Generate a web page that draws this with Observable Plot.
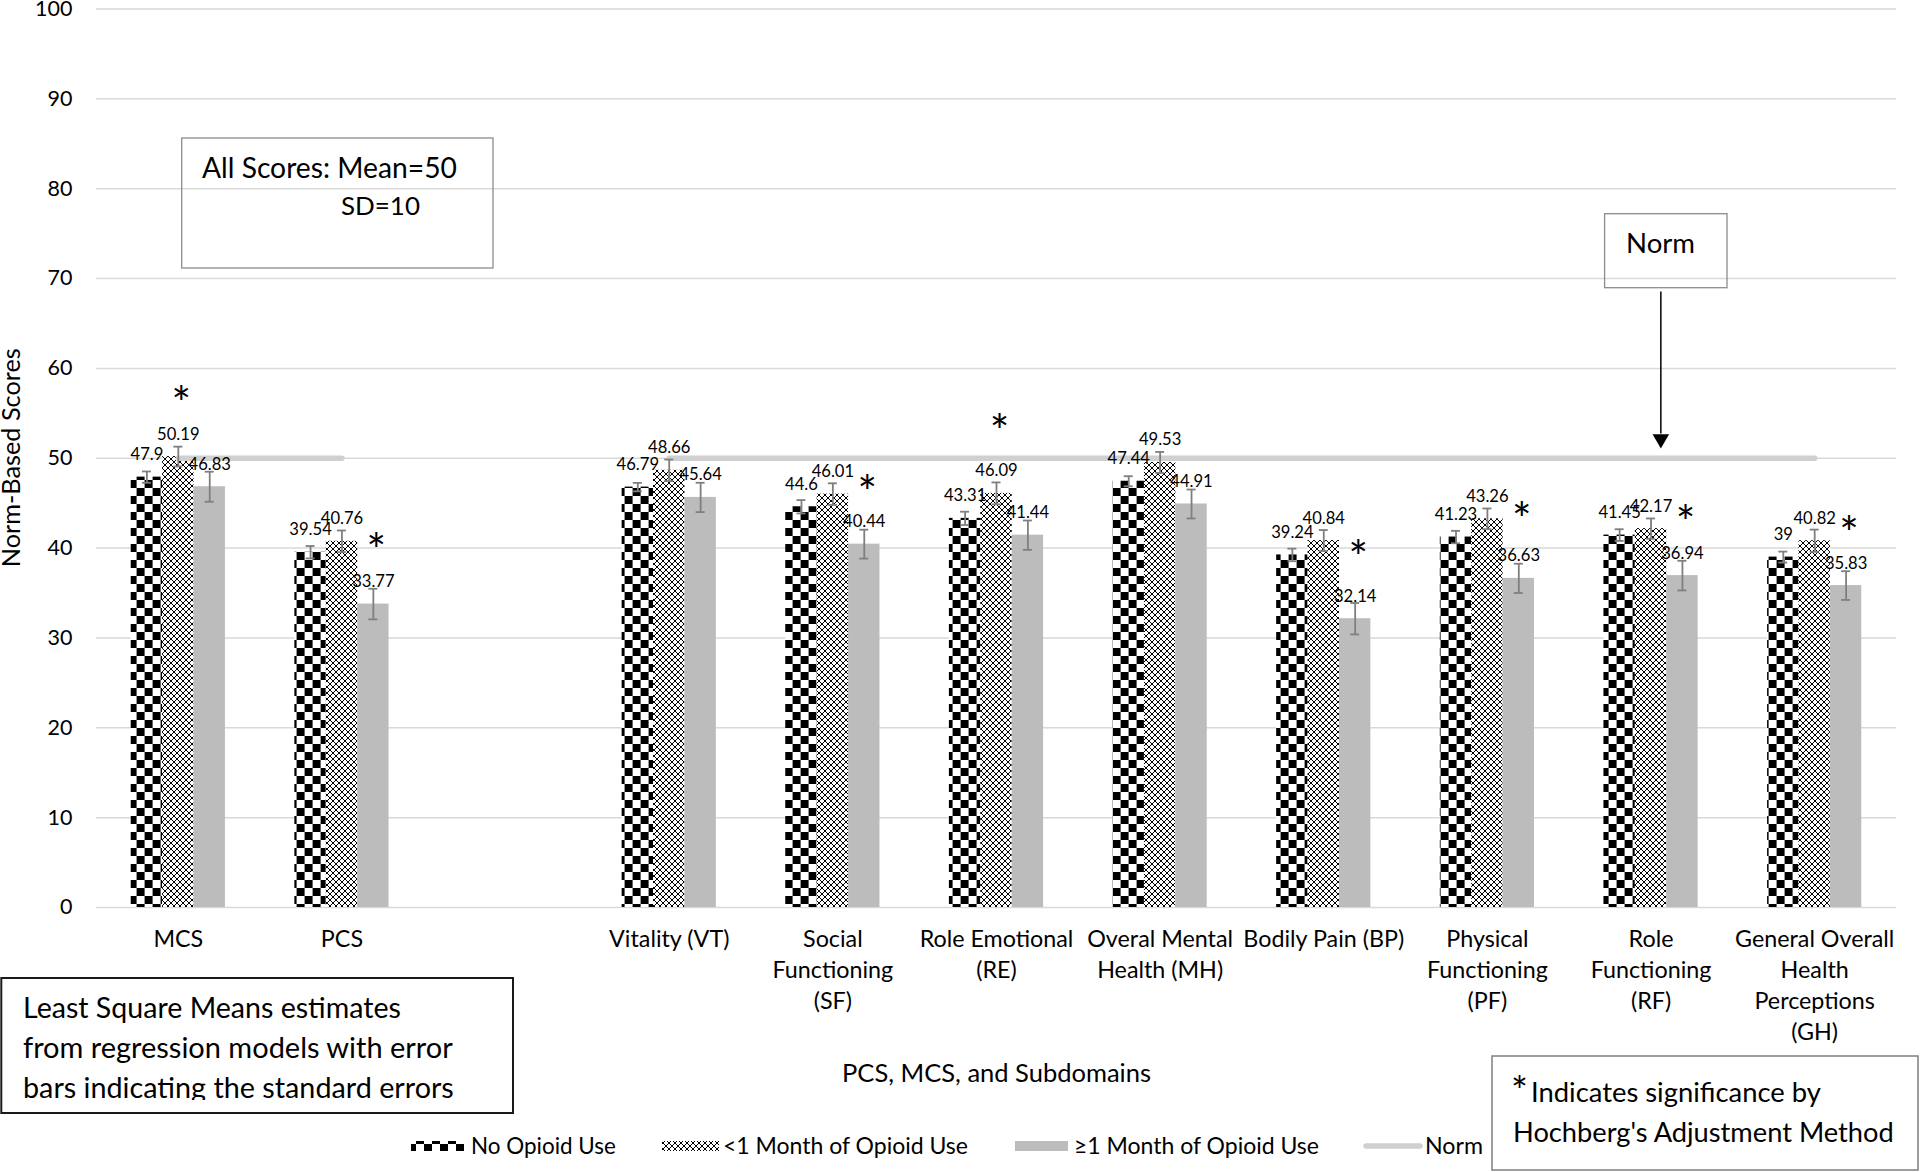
<!DOCTYPE html>
<html><head><meta charset="utf-8">
<script src="https://cdn.jsdelivr.net/npm/d3@7"></script>
<script src="https://cdn.jsdelivr.net/npm/@observablehq/plot@0.6"></script>
<style>
html,body{margin:0;padding:0;background:#fff;}
#wrap{position:relative;width:1920px;height:1172px;overflow:hidden;font-family:Lato,sans-serif;}
#wrap svg.overlay{position:absolute;left:0;top:0;pointer-events:none;}
#wrap > svg:first-child{position:absolute;left:0;top:0;}
</style></head>
<body>
<svg width="0" height="0" style="position:absolute">
<defs>
<pattern id="checker" patternUnits="userSpaceOnUse" width="16" height="16">
<rect width="16" height="16" fill="#fff"/>
<rect width="8" height="8" fill="#000"/>
<rect x="8" y="8" width="8" height="8" fill="#000"/>
</pattern>
<pattern id="cross" patternUnits="userSpaceOnUse" width="6" height="6">
<rect width="6" height="6" fill="#fff"/>
<path d="M0,0L6,6M6,0L0,6" stroke="#000" stroke-width="1"/>
</pattern>
</defs></svg>
<div id="wrap"></div>
<script>
// ---------- data ----------
const categories = ["MCS","PCS","gap","VT","SF","RE","MH","BP","PF","RF","GH"];
const tickLabels = ["MCS","PCS","","Vitality (VT)","Social\nFunctioning\n(SF)","Role Emotional\n(RE)",
  "Overal Mental\nHealth (MH)","Bodily Pain (BP)","Physical\nFunctioning\n(PF)","Role\nFunctioning\n(RF)",
  "General Overall\nHealth\nPerceptions\n(GH)"];
const seriesNames = ["No Opioid Use","<1 Month of Opioid Use","≥1 Month of Opioid Use"];
const noOpioid   = [47.9, 39.54, null, 46.79, 44.6, 43.31, 47.44, 39.24, 41.23, 41.45, 39];
const underMonth = [50.19, 40.76, null, 48.66, 46.01, 46.09, 49.53, 40.84, 43.26, 42.17, 40.82];
const overMonth  = [46.83, 33.77, null, 45.64, 40.44, 41.44, 44.91, 32.14, 36.63, 36.94, 35.83];
const seNo    = [0.63, 0.69, null, 0.47, 0.74, 0.74, 0.56, 0.70, 0.69, 0.65, 0.61];
const seUnder = [1.10, 1.20, null, 1.20, 1.20, 1.22, 1.17, 1.17, 1.15, 1.13, 1.24];
const seOver  = [1.67, 1.70, null, 1.63, 1.61, 1.63, 1.61, 1.75, 1.63, 1.65, 1.60];
const normValues = [50, 50, null, 50, 50, 50, 50, 50, 50, 50, 50];
const yTicks = [0,10,20,30,40,50,60,70,80,90,100];
const xTitle = "PCS, MCS, and Subdomains";
const yTitle = "Norm-Based Scores";
// significance asterisks: category, bar column, score level
const asteriskCats   = ["MCS","PCS","SF","RE","BP","PF","RF","GH"];
const asteriskSeries = [1, 2, 2, 1, 2, 2, 2, 2];
const asteriskLevel  = [57.1, 40.7, 47.2, 54.0, 39.9, 44.2, 43.85, 42.6];
// "Norm" callout arrow (score levels)
const arrowCat = ["RF"];
const arrowFrom = 68.5, arrowTo = 52.7, arrowTip = 52.14;

// ---------- build ----------
const W = 1920, H = 1172, mL = 96, mR = 24, mT = 8.5, mB = 265;
const bw = (W - mL - mR) / categories.length;
const barW = 31.4;
const inset = (bw - barW) / 2;
const offsets = [-barW, 0, barW];
const capInset = (bw - 9) / 2;
const fills = ["url(#checker)", "url(#cross)", "#bcbcbc"];
const valueArrays = [noOpioid, underMonth, overMonth];
const seArrays = [seNo, seUnder, seOver];
const seriesRows = valueArrays.map((vals, k) =>
  categories.map((cat, i) => ({cat, series: seriesNames[k], value: vals[i], se: seArrays[k][i]}))
    .filter(d => d.value != null));
const normRows = categories.map((cat, i) => ({cat, value: normValues[i] == null ? NaN : normValues[i]}));
const asterisks = asteriskCats.map((cat, i) => ({cat, series: asteriskSeries[i], level: asteriskLevel[i]}));

const errColor = "#7f7f7f";
const starSize = 46;
const marks = [
  Plot.gridY(yTicks, {stroke: "#d9d9d9", strokeOpacity: 1, strokeWidth: 1.5}),
  Plot.axisY({ticks: yTicks, tickSize: 0, tickPadding: 24, fontSize: 21.5, label: null}),
  Plot.axisX({tickSize: 0, tickPadding: 18, fontSize: 23.3, lineHeight: 1.32, label: null,
    tickFormat: d => tickLabels[categories.indexOf(d)]}),
  ...seriesRows.map((rows, k) => Plot.barY(rows, {x: "cat", y: "value", fill: fills[k],
    insetLeft: inset, insetRight: inset, dx: offsets[k]})),
  Plot.line(normRows, {x: "cat", y: "value", stroke: "#d0d0d0", strokeWidth: 5.5, strokeLinecap: "round"}),
  ...seriesRows.flatMap((rows, k) => [
    Plot.ruleX(rows, {x: "cat", y1: d => d.value - d.se, y2: d => d.value + d.se, dx: offsets[k], stroke: errColor, strokeWidth: 1.8}),
    Plot.tickY(rows, {x: "cat", y: d => d.value + d.se, insetLeft: capInset, insetRight: capInset, dx: offsets[k], stroke: errColor, strokeWidth: 1.8}),
    Plot.tickY(rows, {x: "cat", y: d => d.value - d.se, insetLeft: capInset, insetRight: capInset, dx: offsets[k], stroke: errColor, strokeWidth: 1.8})
  ]),
  ...seriesRows.map((rows, k) => Plot.text(rows, {x: "cat", y: "value", text: d => String(d.value),
    dx: offsets[k], dy: -22.3, fontSize: 16.6, fill: "#000"})),
  ...[1, 2].map(k => Plot.text(asterisks.filter(a => a.series === k), {x: "cat", y: "level", text: () => "*",
    dx: offsets[k] + 3, dy: (0.553 - 0.32) * starSize, fontSize: starSize, fill: "#000"})),
  Plot.ruleX(arrowCat, {x: d => d, y1: arrowFrom, y2: arrowTo, dx: 9.8, stroke: "#000", strokeWidth: 1.5}),
  Plot.dot(arrowCat, {x: d => d, y: arrowTip, dx: 9.8, symbol: "triangle", r: 6.13, rotate: 180, fill: "#000", stroke: "none"}),
  Plot.text([xTitle], {frameAnchor: "bottom", text: d => d, dy: 174, fontSize: 25.5, fill: "#000"})
];

const chart = Plot.plot({
  width: W, height: H,
  marginLeft: mL, marginRight: mR, marginTop: mT, marginBottom: mB,
  style: {fontFamily: "Lato, sans-serif", background: "transparent", color: "#000", overflow: "visible"},
  x: {type: "band", domain: categories, paddingInner: 0, paddingOuter: 0, round: false},
  y: {domain: [0, 100]},
  marks
});
const wrap = document.getElementById("wrap");
wrap.appendChild(chart);

// ---------- annotations & legend (overlay) ----------
const ns = "http://www.w3.org/2000/svg";
const ov = document.createElementNS(ns, "svg");
ov.setAttribute("class", "overlay");
ov.setAttribute("width", W); ov.setAttribute("height", H);
ov.setAttribute("font-family", "Lato, sans-serif");
ov.innerHTML = `
<text transform="translate(19.5,457.75) rotate(-90)" text-anchor="middle" font-size="23" data-w="219">${yTitle}</text>
<rect x="181.7" y="138" width="311.3" height="130" fill="none" stroke="#8c8c8c" stroke-width="1.3"/>
<text x="202" y="178" font-size="26.5" data-w="255">All Scores: Mean=50</text>
<text x="341" y="215" font-size="26.5" data-w="79">SD=10</text>
<rect x="1604.6" y="213.7" width="122.4" height="74" fill="none" stroke="#8c8c8c" stroke-width="1.3"/>
<text x="1626" y="252.7" font-size="27" data-w="69">Norm</text>
<rect x="1.3" y="978" width="511.7" height="135" fill="none" stroke="#1a1a1a" stroke-width="2"/>
<clipPath id="blclip"><rect x="0" y="978" width="513" height="122"/></clipPath>
<g clip-path="url(#blclip)">
<text x="23" y="1018" font-size="24.5" data-w="378">Least Square Means estimates</text>
<text x="23" y="1058" font-size="24.5" data-w="430">from regression models with error</text>
<text x="23" y="1098" font-size="24.5" data-w="431">bars indicating the standard errors</text>
</g>
<rect x="1492" y="1056" width="426" height="114" fill="none" stroke="#7f7f7f" stroke-width="1.5"/>
<text x="1511" y="1106" font-size="40">*</text>
<text x="1531" y="1102" font-size="25" data-w="290">Indicates significance by</text>
<text x="1513" y="1142" font-size="25" data-w="381">Hochberg's Adjustment Method</text>
<rect x="411" y="1141" width="53" height="10" fill="url(#checker)"/>
<text x="471" y="1154" font-size="23" data-w="145">${seriesNames[0]}</text>
<rect x="662" y="1141" width="57" height="10" fill="url(#cross)"/>
<text x="723" y="1154" font-size="23" data-w="245">${seriesNames[1].replace("<","&lt;")}</text>
<rect x="1015" y="1141" width="53" height="10" fill="#bcbcbc"/>
<text x="1074" y="1154" font-size="23" data-w="245">${seriesNames[2]}</text>
<line x1="1366" x2="1420" y1="1146" y2="1146" stroke="#d0d0d0" stroke-width="5.5" stroke-linecap="round"/>
<text x="1425" y="1154" font-size="23" data-w="58">Norm</text>
`;
wrap.appendChild(ov);
ov.querySelectorAll("text[data-w]").forEach(t => {
  const target = +t.getAttribute("data-w");
  const len = t.getComputedTextLength();
  if (len > 0) {
    const fs = +t.getAttribute("font-size");
    t.setAttribute("font-size", (fs * target / len).toFixed(2));
  }
});
</script>
</body></html>
